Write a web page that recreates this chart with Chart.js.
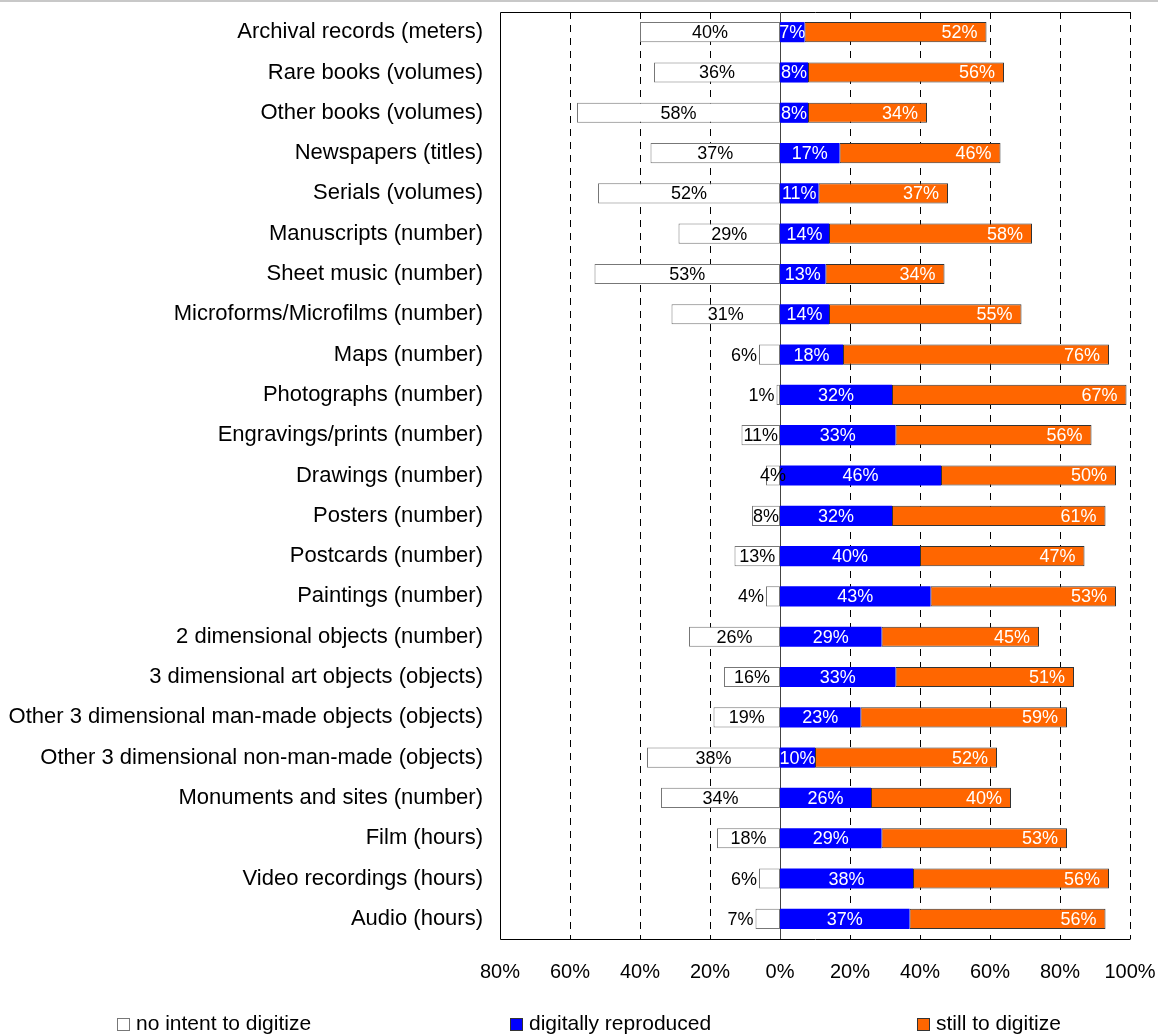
<!DOCTYPE html>
<html>
<head>
<meta charset="utf-8">
<script src="https://cdn.jsdelivr.net/npm/chart.js@4.4.1/dist/chart.umd.min.js"></script>
<style>
  html, body { margin: 0; padding: 0; background: #fff; }
  #wrap { position: relative; width: 1158px; height: 1034px; }
  #topline { position: absolute; left: 0; top: 0; width: 1158px; height: 2px; background: #c8c8c8; }
</style>
</head>
<body>
<div id="wrap">
  <canvas id="c" width="1158" height="1034"></canvas>
  <div id="topline"></div>
</div>
<script>
const categories = [
  "Archival records (meters)",
  "Rare books (volumes)",
  "Other books (volumes)",
  "Newspapers (titles)",
  "Serials (volumes)",
  "Manuscripts (number)",
  "Sheet music (number)",
  "Microforms/Microfilms (number)",
  "Maps (number)",
  "Photographs (number)",
  "Engravings/prints (number)",
  "Drawings (number)",
  "Posters (number)",
  "Postcards (number)",
  "Paintings (number)",
  "2 dimensional objects (number)",
  "3 dimensional art objects (objects)",
  "Other 3 dimensional man-made objects (objects)",
  "Other 3 dimensional non-man-made (objects)",
  "Monuments and sites (number)",
  "Film (hours)",
  "Video recordings (hours)",
  "Audio (hours)"
];
const noIntent = [40, 36, 58, 37, 52, 29, 53, 31, 6, 1, 11, 4, 8, 13, 4, 26, 16, 19, 38, 34, 18, 6, 7];
const digitized = [7, 8, 8, 17, 11, 14, 13, 14, 18, 32, 33, 46, 32, 40, 43, 29, 33, 23, 10, 26, 29, 38, 37];
const stillToDigitize = [52, 56, 34, 46, 37, 58, 34, 55, 76, 67, 56, 50, 61, 47, 53, 45, 51, 59, 52, 40, 53, 56, 56];
const seriesNames = ["no intent to digitize", "digitally reproduced", "still to digitize"];
const xTicks = [-80, -60, -40, -20, 0, 20, 40, 60, 80, 100];

const FONT = "'Liberation Sans', Arial, sans-serif";

const gridPlugin = {
  id: 'gridPlugin',
  beforeDatasetsDraw(chart) {
    const { ctx, chartArea: a, scales: { x } } = chart;
    ctx.save();
    ctx.lineWidth = 1;
    xTicks.forEach(v => {
      if (v === 0 || v === -80) return;
      const px = Math.round(x.getPixelForValue(v)) + 0.5;
      ctx.strokeStyle = '#000';
      ctx.setLineDash([7, 6]);
      ctx.beginPath();
      ctx.moveTo(px, a.top);
      ctx.lineTo(px, a.bottom);
      ctx.stroke();
    });
    ctx.setLineDash([]);
    ctx.strokeStyle = '#000';
    ctx.beginPath();
    const l = Math.round(a.left) + 0.5, t = Math.round(a.top) + 0.5, b = Math.round(a.bottom) + 0.5, r = Math.round(a.right) + 0.5;
    ctx.moveTo(r, t); ctx.lineTo(l, t); ctx.lineTo(l, b); ctx.lineTo(r, b);
    ctx.stroke();
    const z = Math.round(x.getPixelForValue(0)) + 0.5;
    ctx.strokeStyle = '#444';
    ctx.beginPath();
    ctx.moveTo(z, a.top); ctx.lineTo(z, a.bottom);
    ctx.stroke();
    ctx.restore();
  }
};

const labelPlugin = {
  id: 'labelPlugin',
  afterDatasetsDraw(chart) {
    const ctx = chart.ctx;
    ctx.save();
    ctx.font = "18px " + FONT;
    ctx.textBaseline = 'middle';
    chart.data.datasets.forEach((ds, di) => {
      const meta = chart.getDatasetMeta(di);
      meta.data.forEach((bar, i) => {
        const v = Math.abs(ds.data[i]);
        const txt = v + '%';
        const y = bar.y + 1;
        if (di === 0) {
          ctx.fillStyle = '#000';
          const left = Math.min(bar.x, bar.base);
          const right = Math.max(bar.x, bar.base);
          if (v < 8 && categories[i] !== "Drawings (number)") {
            ctx.textAlign = 'right';
            ctx.fillText(txt, left - 2, y);
          } else {
            ctx.textAlign = 'center';
            ctx.fillText(txt, (left + right) / 2, y);
          }
        } else if (di === 1) {
          ctx.fillStyle = '#fff';
          ctx.textAlign = 'center';
          ctx.fillText(txt, (bar.x + bar.base) / 2, y);
        } else {
          ctx.fillStyle = '#fff';
          ctx.textAlign = 'right';
          ctx.fillText(txt, bar.x - 9, y);
        }
      });
    });
    ctx.restore();
  }
};

const legendPlugin = {
  id: 'legendPlugin',
  afterDraw(chart) {
    const ctx = chart.ctx;
    const xs = [117, 510, 917];
    const fills = ['#ffffff', '#0000ff', '#ff6600'];
    const strokes = ['#777777', '#333333', '#333333'];
    ctx.save();
    ctx.font = "21px " + FONT;
    ctx.textBaseline = 'middle';
    ctx.textAlign = 'left';
    seriesNames.forEach((n, i) => {
      ctx.fillStyle = fills[i];
      ctx.fillRect(xs[i], 1018, 13, 13);
      ctx.strokeStyle = strokes[i];
      ctx.lineWidth = 1;
      ctx.strokeRect(xs[i] + 0.5, 1018.5, 12, 12);
      ctx.fillStyle = '#000';
      ctx.fillText(n, xs[i] + 19, 1024);
    });
    ctx.restore();
  }
};

new Chart(document.getElementById('c'), {
  type: 'bar',
  data: {
    labels: categories,
    datasets: [
      { label: seriesNames[0], data: noIntent.map(v => -v), backgroundColor: '#ffffff', borderColor: '#777777', borderWidth: 1, borderSkipped: false },
      { label: seriesNames[1], data: digitized, backgroundColor: '#0000ff', borderWidth: 0 },
      { label: seriesNames[2], data: stillToDigitize, backgroundColor: '#ff6600', borderColor: '#333333', borderWidth: 1, borderSkipped: false }
    ]
  },
  options: {
    indexAxis: 'y',
    responsive: false,
    animation: false,
    devicePixelRatio: 1,
    layout: { padding: { top: 12, right: 28, left: 0, bottom: 0 } },
    datasets: { bar: { categoryPercentage: 1, barPercentage: 0.5 } },
    plugins: { legend: { display: false }, tooltip: { enabled: false } },
    scales: {
      x: {
        stacked: true,
        min: -80, max: 100,
        afterBuildTicks(scale) { scale.ticks = xTicks.map(v => ({ value: v })); },
        afterFit(scale) { scale.height = 95; scale.paddingLeft = 0; scale.paddingRight = 0; scale.paddingTop = 0; scale.paddingBottom = 0; },
        grid: { display: false },
        border: { display: false },
        ticks: {
          font: { family: FONT, size: 20 },
          color: '#000',
          padding: 13,
          maxRotation: 0,
          callback: v => Math.abs(v) + '%'
        }
      },
      y: {
        stacked: true,
        afterFit(scale) { scale.width = 500; scale.paddingLeft = 0; scale.paddingRight = 0; scale.paddingTop = 0; scale.paddingBottom = 0; },
        grid: { display: false, drawTicks: false },
        border: { display: false },
        ticks: {
          font: { family: FONT, size: 22 },
          color: '#000',
          padding: 17,
          autoSkip: false
        }
      }
    }
  },
  plugins: [gridPlugin, labelPlugin, legendPlugin]
});
</script>
</body>
</html>
